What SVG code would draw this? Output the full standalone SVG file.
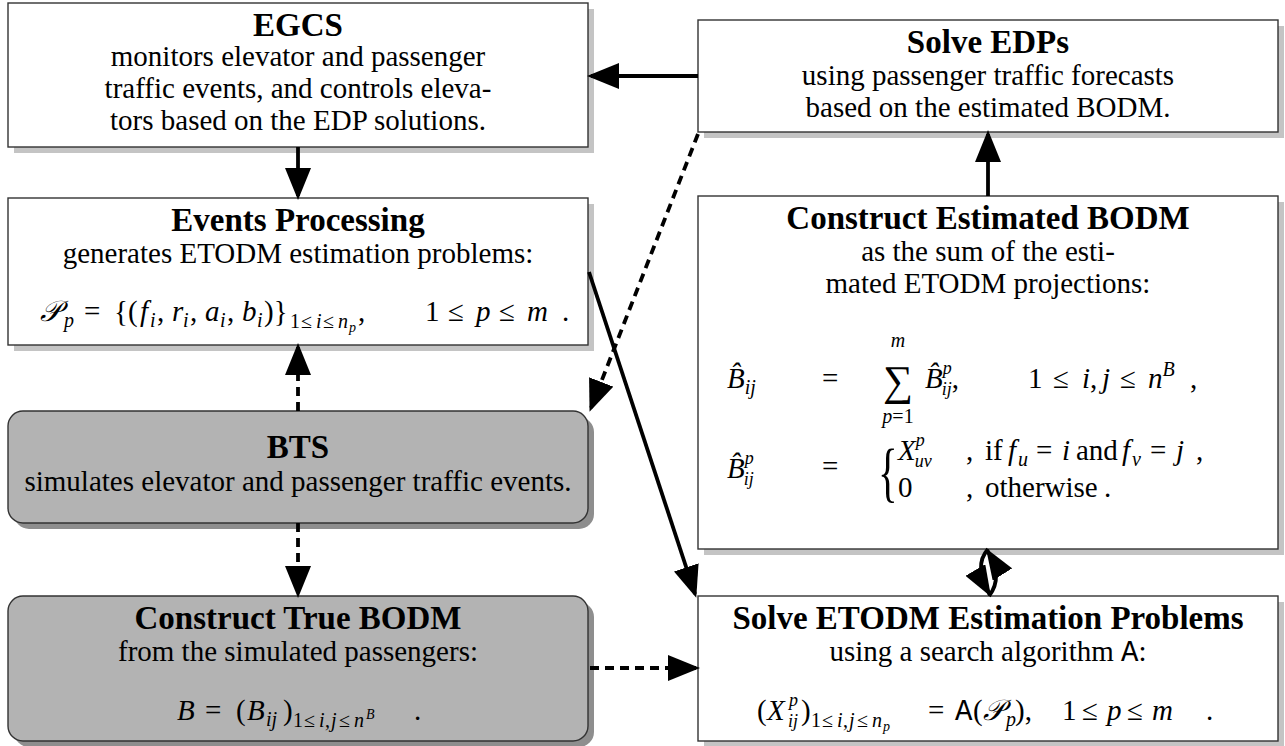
<svg xmlns="http://www.w3.org/2000/svg" width="1285" height="746" viewBox="0 0 1285 746">
<defs>
<style>
.box{fill:#fff;stroke:#333;stroke-width:1.4}
.gbox{fill:#b3b3b3;stroke:#333;stroke-width:1.4}
.sh{fill:#c4c4c4}
.gsh{fill:#8e8e8e}
text{font-family:"Liberation Serif","Times New Roman",serif;fill:#000}
.t{font-size:33px;font-weight:bold;text-anchor:middle}
.b{font-size:29px;text-anchor:middle}
.m{font-size:29px}
.i{font-style:italic}
.s{font-size:20px}
.u{font-size:18px}
.ss{font-size:14px}
.cal{font-family:"DejaVu Serif",serif;font-style:italic}
.tt{font-family:"Liberation Mono",monospace}
.ln{fill:none;stroke:#000;stroke-width:3.8}
.dl{fill:none;stroke:#000;stroke-width:3.8;stroke-dasharray:9 6}
</style>
<marker id="ah" markerUnits="userSpaceOnUse" markerWidth="32" markerHeight="26" refX="28" refY="13" orient="auto">
<path d="M0,0 L32,13 L0,26 Z" fill="#000"/>
</marker>
<marker id="ah2" markerUnits="userSpaceOnUse" markerWidth="31" markerHeight="23" refX="29" refY="11.5" orient="auto">
<path d="M0,0 L31,11.5 L0,23 Z" fill="#000"/>
</marker>
</defs>

<g id="egcs">
<rect class="sh" x="14" y="9" width="580" height="144"/>
<rect class="box" x="8" y="3" width="580" height="144"/>
<text class="t" x="298" y="36">EGCS</text>
<text class="b" x="298" y="66">monitors elevator and passenger</text>
<text class="b" x="298" y="98">traffic events, and controls eleva-</text>
<text class="b" x="298" y="130">tors based on the EDP solutions.</text>
</g>

<g id="solve-edps">
<rect class="sh" x="704" y="26" width="580" height="112"/>
<rect class="box" x="698" y="20" width="580" height="112"/>
<text class="t" x="988" y="53">Solve EDPs</text>
<text class="b" x="988" y="85">using passenger traffic forecasts</text>
<text class="b" x="988" y="117">based on the estimated BODM.</text>
</g>

<g id="events">
<rect class="sh" x="14" y="204" width="580" height="147"/>
<rect class="box" x="8" y="198" width="580" height="147"/>
<text class="t" x="298" y="231">Events Processing</text>
<text class="b" x="298" y="263">generates ETODM estimation problems:</text>
<text class="m" y="321"><tspan class="cal" x="40">𝒫</tspan><tspan class="s i" x="64" dy="6">p</tspan><tspan x="84" dy="-6">=</tspan><tspan x="114">{(</tspan><tspan class="i" x="140">f</tspan><tspan class="s i" x="150" dy="6">i</tspan><tspan x="157" dy="-6">,</tspan><tspan class="i" x="172">r</tspan><tspan class="s i" x="183" dy="6">i</tspan><tspan x="190" dy="-6">,</tspan><tspan class="i" x="205">a</tspan><tspan class="s i" x="220" dy="6">i</tspan><tspan x="227" dy="-6">,</tspan><tspan class="i" x="242">b</tspan><tspan class="s i" x="257" dy="6">i</tspan><tspan x="264" dy="-6">)}</tspan><tspan class="s" x="290" dy="7">1</tspan><tspan class="s" x="301">≤</tspan><tspan class="s i" x="316">i</tspan><tspan class="s" x="323">≤</tspan><tspan class="s i" x="338">n</tspan><tspan class="ss i" x="349" dy="4">p</tspan><tspan x="358" dy="-11">,</tspan><tspan x="425">1</tspan><tspan x="448">≤</tspan><tspan class="i" x="476">p</tspan><tspan x="499">≤</tspan><tspan class="i" x="527">m</tspan><tspan x="562">.</tspan></text>
</g>

<g id="construct-est">
<rect class="sh" x="704" y="202" width="580" height="353"/>
<rect class="box" x="698" y="196" width="580" height="353"/>
<text class="t" x="988" y="229">Construct Estimated BODM</text>
<text class="b" x="988" y="261">as the sum of the esti-</text>
<text class="b" x="988" y="293">mated ETODM projections:</text>
<text class="m i" x="727" y="388">B̂<tspan class="s" dy="6">ij</tspan></text>
<text class="m" x="822" y="388">=</text>
<text class="s i" x="898" y="347" text-anchor="middle">m</text>
<text x="898" y="395" font-size="42" text-anchor="middle">∑</text>
<text class="s" x="898" y="423" text-anchor="middle"><tspan class="i">p</tspan>=1</text>
<text class="m i" x="925" y="388">B̂<tspan class="u" dy="-14">p</tspan><tspan class="u" dx="-10" dy="21">ij</tspan><tspan class="m" font-style="normal" dy="-7">,</tspan></text>
<text class="m" y="388"><tspan x="1028">1</tspan><tspan x="1053">≤</tspan><tspan class="i" x="1082">i</tspan><tspan x="1090">,</tspan><tspan class="i" x="1102">j</tspan><tspan x="1120">≤</tspan><tspan class="i" x="1148">n</tspan><tspan class="s i" dy="-12">B</tspan><tspan x="1190" dy="12">,</tspan></text>
<text class="m i" x="727" y="478">B̂<tspan class="u" dy="-14">p</tspan><tspan class="u" dx="-10" dy="21">ij</tspan></text>
<text class="m" x="822" y="476">=</text>
<text x="0" y="0" font-size="66" transform="translate(878,494) scale(0.62,1)">{</text>
<text class="m i" x="898" y="460">X<tspan class="u" dy="-14">p</tspan><tspan class="u" dx="-10" dy="21">uv</tspan></text>
<text class="m" y="460"><tspan x="966">,</tspan><tspan x="985">if</tspan><tspan class="i" x="1008">f</tspan><tspan class="s i" x="1018" dy="6">u</tspan><tspan x="1036" dy="-6">=</tspan><tspan class="i" x="1062">i</tspan><tspan x="1076">and</tspan><tspan class="i" x="1122">f</tspan><tspan class="s i" x="1132" dy="6">v</tspan><tspan x="1150" dy="-6">=</tspan><tspan class="i" x="1176">j</tspan><tspan x="1196">,</tspan></text>
<text class="m" x="898" y="497">0</text>
<text class="m" y="497"><tspan x="966">,</tspan><tspan x="985">otherwise</tspan><tspan x="1104">.</tspan></text>
</g>

<g id="bts">
<rect class="gsh" x="14" y="417" width="580" height="112" rx="15"/>
<rect class="gbox" x="8" y="411" width="580" height="112" rx="15"/>
<text class="t" x="298" y="458">BTS</text>
<text class="b" x="298" y="491">simulates elevator and passenger traffic events.</text>
</g>

<g id="construct-true">
<rect class="gsh" x="14" y="602" width="580" height="145" rx="15"/>
<rect class="gbox" x="8" y="596" width="580" height="145" rx="15"/>
<text class="t" x="298" y="629">Construct True BODM</text>
<text class="b" x="298" y="661">from the simulated passengers:</text>
<text class="m" y="720"><tspan class="i" x="177">B</tspan><tspan x="205">=</tspan><tspan x="236">(</tspan><tspan class="i" x="247">B</tspan><tspan class="s i" x="266" dy="6">ij</tspan><tspan x="283" dy="-6">)</tspan><tspan class="s" x="293" dy="7">1</tspan><tspan class="s" x="304">≤</tspan><tspan class="s i" x="319">i</tspan><tspan class="s" x="325">,</tspan><tspan class="s i" x="331">j</tspan><tspan class="s" x="339">≤</tspan><tspan class="s i" x="354">n</tspan><tspan class="ss i" x="366" dy="-8">B</tspan><tspan x="414" dy="1">.</tspan></text>
</g>

<g id="solve-etodm">
<rect class="sh" x="704" y="602" width="580" height="145"/>
<rect class="box" x="698" y="596" width="580" height="145"/>
<text class="t" x="988" y="629">Solve ETODM Estimation Problems</text>
<text class="b" x="988" y="661">using a search algorithm <tspan class="tt">A</tspan>:</text>
<text class="m" y="720"><tspan x="757">(</tspan><tspan class="i" x="767">X</tspan><tspan class="u i" x="789" dy="-14">p</tspan><tspan class="u i" x="788" dy="21">ij</tspan><tspan x="801" dy="-7">)</tspan><tspan class="s" x="811" dy="7">1</tspan><tspan class="s" x="822">≤</tspan><tspan class="s i" x="837">i</tspan><tspan class="s" x="843">,</tspan><tspan class="s i" x="849">j</tspan><tspan class="s" x="857">≤</tspan><tspan class="s i" x="872">n</tspan><tspan class="ss i" x="883" dy="4">p</tspan><tspan x="928" dy="-11">=</tspan><tspan class="tt" x="955">A</tspan><tspan x="973">(</tspan><tspan class="cal" x="983">𝒫</tspan><tspan class="s i" x="1006" dy="6">p</tspan><tspan x="1015" dy="-6">),</tspan><tspan x="1062">1</tspan><tspan x="1082">≤</tspan><tspan class="i" x="1107">p</tspan><tspan x="1127">≤</tspan><tspan class="i" x="1152">m</tspan><tspan x="1206">.</tspan></text>
</g>

<g id="connectors">
<path class="ln" d="M698,76 L591,76" marker-end="url(#ah)"/>
<path class="ln" d="M298,147 L298,196" marker-end="url(#ah)"/>
<path class="ln" d="M988,196 L988,134" marker-end="url(#ah)"/>
<path class="dl" d="M698,134 L591,408" marker-end="url(#ah)"/>
<path class="dl" d="M298,411 L298,347" marker-end="url(#ah)"/>
<path class="dl" d="M298,523 L298,594" marker-end="url(#ah)"/>
<path class="ln" d="M589,272 L695,594" marker-end="url(#ah)"/>
<path class="dl" d="M590,668 L696,668" marker-end="url(#ah)"/>
<path class="ln" d="M988,549 Q973,566 990,595" marker-end="url(#ah2)"/>
<path class="ln" d="M989,596 Q1004,577 987,550" marker-end="url(#ah2)"/>
</g>
</svg>
